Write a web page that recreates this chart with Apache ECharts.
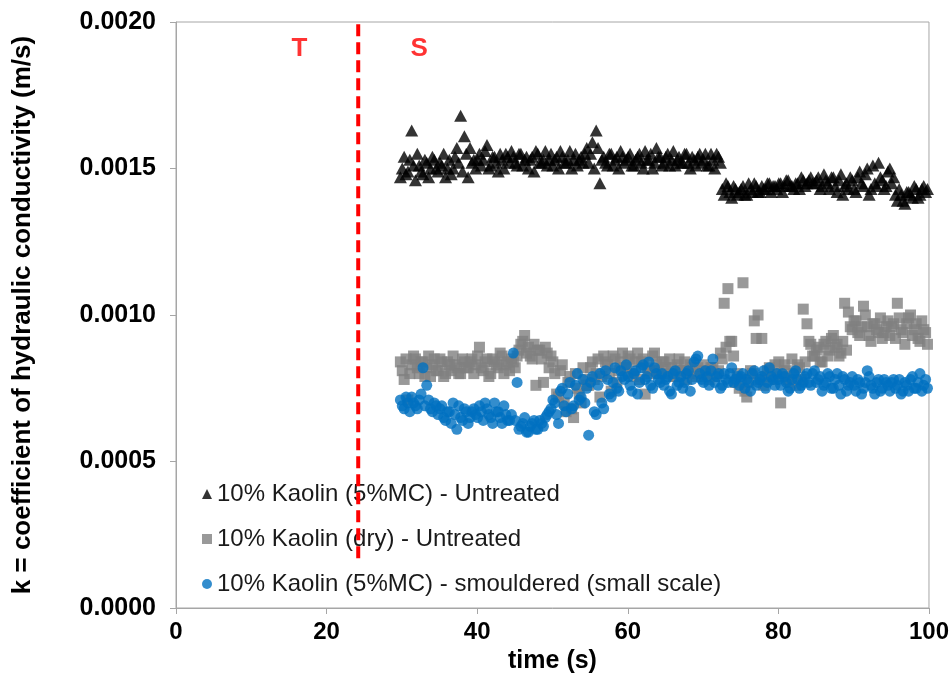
<!DOCTYPE html>
<html><head><meta charset="utf-8">
<script src="https://cdn.jsdelivr.net/npm/echarts@6/dist/echarts.min.js"></script>
<style>html,body{margin:0;padding:0;background:#fff}#c{width:952px;height:682px}</style>
</head><body><div id="c"></div>
<script>
const seriesNames = [
  '10% Kaolin (5%MC) - Untreated',
  '10% Kaolin (dry) - Untreated',
  '10% Kaolin (5%MC) - smouldered (small scale)'
];
const yTickLabels = ['0.0000', '0.0005', '0.0010', '0.0015', '0.0020'];
const xTickLabels = ['0', '20', '40', '60', '80', '100'];

// first set of sample times
const time = [
29.8,30.3,30.8,31.3,31.8,32.3,32.8,33.3,33.8,34.3,
34.8,35.3,35.8,36.3,36.8,37.3,37.8,38.3,38.8,39.3,
39.8,40.3,40.8,41.3,41.8,42.3,42.8,43.3,43.8,44.3,
44.8,45.3,45.8,46.3,46.8,47.3,47.8,48.3,48.8,49.3,
49.8,50.3,50.8,51.3,51.8,52.3,52.8,53.3,53.8,54.3,
54.8,55.3,55.8,56.3,56.8,57.3,57.8,58.3,58.8,59.3,
59.8,60.3,60.8,61.3,61.8,62.3,62.8,63.3,63.8,64.3,
64.8,65.3,65.8,66.3,66.8,67.3,67.8,68.3,68.8,69.3,
69.8,70.3,70.8,71.3,71.8,72.3,72.8,73.3,73.8,74.3,
74.8,75.3,75.8,76.3,76.8,77.3,77.8,78.3,78.8,79.3,
79.8,80.3,80.8,81.3,81.8,82.3,82.8,83.3,83.8,84.3,
84.8,85.3,85.8,86.3,86.8,87.3,87.8,88.3,88.8,89.3,
89.8,90.3,90.8,91.3,91.8,92.3,92.8,93.3,93.8,94.3,
94.8,95.3,95.8,96.3,96.8,97.3,97.8,98.3,98.8,99.3,
99.8];

// second set of sample times (in between)
const time2 = [
30.05,30.55,31.05,31.55,32.05,32.55,33.05,33.55,34.05,34.55,
35.05,35.55,36.05,36.55,37.05,37.55,38.05,38.55,39.05,39.55,
40.05,40.55,41.05,41.55,42.05,42.55,43.05,43.55,44.05,44.55,
45.05,45.55,46.05,46.55,47.05,47.55,48.05,48.55,49.05,49.55,
50.05,50.55,51.05,51.55,52.05,52.55,53.05,53.55,54.05,54.55,
55.05,55.55,56.05,56.55,57.05,57.55,58.05,58.55,59.05,59.55,
60.05,60.55,61.05,61.55,62.05,62.55,63.05,63.55,64.05,64.55,
65.05,65.55,66.05,66.55,67.05,67.55,68.05,68.55,69.05,69.55,
70.05,70.55,71.05,71.55,72.05,72.55,73.05,73.55,74.05,74.55,
75.05,75.55,76.05,76.55,77.05,77.55,78.05,78.55,79.05,79.55,
80.05,80.55,81.05,81.55,82.05,82.55,83.05,83.55,84.05,84.55,
85.05,85.55,86.05,86.55,87.05,87.55,88.05,88.55,89.05,89.55,
90.05,90.55,91.05,91.55,92.05,92.55,93.05,93.55,94.05,94.55,
95.05,95.55,96.05,96.55,97.05,97.55,98.05,98.55,99.05,99.55];

const kUntreated5MC = [
0.00147,0.00154,0.00149,0.00163,0.00146,0.00151,0.00148,0.00152,0.00150,0.00153,
0.00149,0.00151,0.00147,0.00153,0.00150,0.00157,0.00168,0.00161,0.00147,0.00152,
0.00150,0.00155,0.00153,0.00158,0.00151,0.00154,0.00149,0.00153,0.00155,0.00152,
0.00154,0.00151,0.00155,0.00153,0.00150,0.00154,0.00156,0.00152,0.00153,0.00151,
0.00155,0.00153,0.00150,0.00154,0.00152,0.00156,0.00153,0.00151,0.00154,0.00155,
0.00152,0.00159,0.00163,0.00145,0.00154,0.00151,0.00155,0.00153,0.00150,0.00154,
0.00153,0.00155,0.00151,0.00154,0.00152,0.00156,0.00153,0.00150,0.00157,0.00154,
0.00152,0.00155,0.00153,0.00151,0.00154,0.00152,0.00155,0.00150,0.00153,0.00154,
0.00152,0.00155,0.00151,0.00153,0.00155,0.00152,0.00141,0.00144,0.00140,0.00143,
0.00142,0.00144,0.00141,0.00143,0.00145,0.00142,0.00144,0.00143,0.00145,0.00144,
0.00143,0.00145,0.00144,0.00146,0.00144,0.00145,0.00143,0.00146,0.00145,0.00147,
0.00145,0.00147,0.00144,0.00146,0.00143,0.00147,0.00142,0.00148,0.00144,0.00143,
0.00146,0.00142,0.00149,0.00144,0.00150,0.00143,0.00145,0.00152,0.00146,0.00144,
0.00150,0.00147,0.00139,0.00141,0.00138,0.00142,0.00140,0.00143,0.00141,0.00144,
0.00143];
const kUntreated5MC2 = [
0.00150,0.00148,0.00153,0.00151,0.00155,0.00149,0.00153,0.00147,0.00154,0.00150,
0.00152,0.00155,0.00150,0.00148,0.00154,0.00152,0.00149,0.00155,0.00157,0.00153,
0.00153,0.00151,0.00156,0.00150,0.00154,0.00152,0.00155,0.00150,0.00154,0.00156,
0.00152,0.00155,0.00151,0.00154,0.00153,0.00149,0.00155,0.00152,0.00156,0.00153,
0.00151,0.00154,0.00156,0.00152,0.00153,0.00150,0.00155,0.00153,0.00152,0.00157,
0.00155,0.00150,0.00157,0.00153,0.00152,0.00155,0.00151,0.00154,0.00156,0.00152,
0.00154,0.00151,0.00153,0.00155,0.00150,0.00153,0.00155,0.00152,0.00154,0.00151,
0.00154,0.00151,0.00156,0.00153,0.00152,0.00155,0.00152,0.00154,0.00151,0.00155,
0.00153,0.00151,0.00155,0.00150,0.00154,0.00143,0.00145,0.00142,0.00144,0.00141,
0.00143,0.00141,0.00145,0.00142,0.00144,0.00142,0.00143,0.00145,0.00142,0.00144,
0.00145,0.00142,0.00146,0.00144,0.00143,0.00145,0.00147,0.00144,0.00146,0.00145,
0.00146,0.00143,0.00148,0.00145,0.00147,0.00144,0.00146,0.00141,0.00145,0.00147,
0.00143,0.00147,0.00145,0.00148,0.00141,0.00151,0.00144,0.00147,0.00143,0.00149,
0.00145,0.00141,0.00143,0.00139,0.00142,0.00141,0.00144,0.00140,0.00143,0.00142];

const kUntreatedDry = [
0.00084,0.00078,0.00071,0.00083,0.00085,0.00080,0.00084,0.00082,0.00079,0.00085,
0.00081,0.00084,0.00080,0.00083,0.00086,0.00082,0.00080,0.00084,0.00082,0.00085,
0.00083,0.00089,0.00081,0.00085,0.00080,0.00084,0.00082,0.00086,0.00083,0.00081,
0.00084,0.00086,0.00090,0.00093,0.00089,0.00085,0.00076,0.00088,0.00077,0.00087,
0.00086,0.00080,0.00072,0.00083,0.00067,0.00079,0.00065,0.00075,0.00070,0.00078,
0.00076,0.00084,0.00080,0.00072,0.00086,0.00083,0.00074,0.00085,0.00081,0.00087,
0.00082,0.00085,0.00079,0.00087,0.00084,0.00073,0.00081,0.00086,0.00083,0.00080,
0.00084,0.00080,0.00082,0.00079,0.00085,0.00081,0.00078,0.00083,0.00080,0.00082,
0.00079,0.00081,0.00078,0.00082,0.00080,0.00087,0.00104,0.00109,0.00091,0.00077,
0.00075,0.00111,0.00072,0.00081,0.00098,0.00100,0.00092,0.00079,0.00082,0.00078,
0.00080,0.00070,0.00083,0.00078,0.00085,0.00076,0.00082,0.00102,0.00097,0.00090,
0.00086,0.00089,0.00084,0.00091,0.00088,0.00093,0.00090,0.00087,0.00104,0.00101,
0.00095,0.00098,0.00093,0.00103,0.00096,0.00091,0.00097,0.00094,0.00092,0.00096,
0.00093,0.00097,0.00104,0.00095,0.00090,0.00099,0.00093,0.00097,0.00091,0.00095,
0.00090];
const kUntreatedDry2 = [
0.00081,0.00085,0.00080,0.00086,0.00082,0.00084,0.00079,0.00086,0.00083,0.00081,
0.00085,0.00079,0.00084,0.00081,0.00083,0.00080,0.00085,0.00082,0.00084,0.00080,
0.00086,0.00082,0.00084,0.00079,0.00085,0.00083,0.00087,0.00080,0.00084,0.00085,
0.00082,0.00088,0.00091,0.00087,0.00086,0.00090,0.00088,0.00085,0.00089,0.00082,
0.00084,0.00073,0.00081,0.00070,0.00077,0.00068,0.00080,0.00073,0.00082,0.00076,
0.00082,0.00078,0.00085,0.00079,0.00084,0.00080,0.00086,0.00077,0.00084,0.00082,
0.00086,0.00080,0.00084,0.00078,0.00085,0.00082,0.00080,0.00087,0.00081,0.00084,
0.00082,0.00085,0.00079,0.00083,0.00081,0.00084,0.00080,0.00082,0.00079,0.00081,
0.00083,0.00080,0.00082,0.00079,0.00081,0.00085,0.00089,0.00091,0.00086,0.00080,
0.00078,0.00074,0.00077,0.00080,0.00092,0.00078,0.00076,0.00081,0.00079,0.00083,
0.00084,0.00079,0.00081,0.00077,0.00080,0.00083,0.00078,0.00084,0.00091,0.00086,
0.00088,0.00084,0.00090,0.00086,0.00092,0.00089,0.00086,0.00091,0.00088,0.00096,
0.00098,0.00094,0.00096,0.00100,0.00093,0.00097,0.00095,0.00099,0.00094,0.00098,
0.00096,0.00092,0.00099,0.00094,0.00097,0.00100,0.00095,0.00092,0.00098,0.00094];

const kSmouldered = [
0.00071,0.00068,0.00070,0.00072,0.00069,0.00071,0.00082,0.00076,0.00068,0.00070,
0.00066,0.00069,0.00064,0.00067,0.00070,0.00061,0.00065,0.00068,0.00063,0.00067,
0.00066,0.00069,0.00064,0.00068,0.00065,0.00070,0.00067,0.00063,0.00066,0.00064,
0.00087,0.00077,0.00062,0.00065,0.00060,0.00063,0.00061,0.00064,0.00062,0.00066,
0.00068,0.00070,0.00063,0.00075,0.00067,0.00077,0.00069,0.00080,0.00072,0.00070,
0.00059,0.00079,0.00066,0.00080,0.00068,0.00078,0.00072,0.00082,0.00074,0.00079,
0.00083,0.00076,0.00080,0.00073,0.00082,0.00078,0.00084,0.00075,0.00080,0.00077,
0.00076,0.00079,0.00073,0.00081,0.00077,0.00075,0.00080,0.00074,0.00084,0.00086,
0.00078,0.00081,0.00076,0.00085,0.00079,0.00075,0.00080,0.00077,0.00082,0.00078,
0.00076,0.00080,0.00078,0.00074,0.00081,0.00077,0.00079,0.00075,0.00082,0.00078,
0.00080,0.00076,0.00079,0.00074,0.00078,0.00081,0.00075,0.00077,0.00080,0.00076,
0.00081,0.00078,0.00074,0.00077,0.00079,0.00075,0.00080,0.00073,0.00078,0.00076,
0.00079,0.00074,0.00077,0.00075,0.00081,0.00076,0.00073,0.00078,0.00075,0.00077,
0.00074,0.00078,0.00076,0.00073,0.00077,0.00074,0.00079,0.00075,0.00080,0.00076,
0.00075];
const kSmouldered2 = [
0.00069,0.00072,0.00067,0.00070,0.00068,0.00073,0.00069,0.00071,0.00067,0.00069,
0.00068,0.00065,0.00067,0.00063,0.00066,0.00069,0.00064,0.00067,0.00065,0.00068,
0.00065,0.00067,0.00070,0.00066,0.00063,0.00067,0.00065,0.00069,0.00064,0.00066,
0.00064,0.00061,0.00063,0.00060,0.00062,0.00064,0.00061,0.00063,0.00065,0.00067,
0.00071,0.00066,0.00074,0.00069,0.00073,0.00068,0.00076,0.00071,0.00078,0.00075,
0.00077,0.00067,0.00076,0.00070,0.00081,0.00073,0.00077,0.00075,0.00081,0.00078,
0.00079,0.00074,0.00081,0.00077,0.00083,0.00079,0.00076,0.00082,0.00078,0.00080,
0.00078,0.00074,0.00080,0.00076,0.00079,0.00077,0.00081,0.00078,0.00085,0.00080,
0.00077,0.00079,0.00081,0.00077,0.00080,0.00076,0.00078,0.00080,0.00077,0.00079,
0.00079,0.00075,0.00077,0.00080,0.00076,0.00078,0.00081,0.00077,0.00079,0.00076,
0.00078,0.00080,0.00077,0.00075,0.00080,0.00078,0.00076,0.00079,0.00077,0.00080,
0.00077,0.00079,0.00076,0.00080,0.00075,0.00078,0.00076,0.00079,0.00074,0.00077,
0.00076,0.00078,0.00073,0.00077,0.00079,0.00075,0.00077,0.00074,0.00078,0.00076,
0.00077,0.00075,0.00078,0.00074,0.00076,0.00078,0.00075,0.00077,0.00074,0.00078];

const transitionTime = [24.2, 24.2];
const transitionK = [0.00017, 0.0020];
const annotationText = ['T', 'S'];
const annotationTime = [16.4, 32.3];
const annotationK = [0.00191, 0.00191];

const pairs = (xs, ys) => xs.map((x, i) => [x, ys[i]]);
const FONT = '"Liberation Sans", Arial, sans-serif';

const chart = echarts.init(document.getElementById('c'), null, {renderer: 'canvas'});
chart.setOption({
  animation: false,
  backgroundColor: '#ffffff',
  grid: {left: 176, right: 20, top: 22, bottom: 74, show: true, borderColor: '#a6a6a6', borderWidth: 1},
  xAxis: {
    type: 'value', min: 0, max: 100, interval: 20,
    name: 'time (s)', nameLocation: 'middle', nameGap: 38,
    nameTextStyle: {fontFamily: FONT, fontWeight: 'bold', fontSize: 25, color: '#000'},
    axisLine: {show: true, lineStyle: {color: '#a6a6a6', width: 1}},
    axisTick: {show: true, inside: false, length: 6, lineStyle: {color: '#a6a6a6'}},
    axisLabel: {fontFamily: FONT, fontWeight: 'bold', fontSize: 24, color: '#000', margin: 12,
      formatter: (v) => xTickLabels[Math.round(v / 20)]},
    splitLine: {show: false}
  },
  yAxis: {
    type: 'value', min: 0, max: 0.002, interval: 0.0005,
    name: 'k = coefficient of hydraulic conductivity (m/s)', nameLocation: 'middle', nameGap: 140,
    nameRotate: 90,
    nameTextStyle: {fontFamily: FONT, fontWeight: 'bold', fontSize: 26, color: '#000'},
    axisLine: {show: true, lineStyle: {color: '#a6a6a6', width: 1}},
    axisTick: {show: true, inside: false, length: 6, lineStyle: {color: '#a6a6a6'}},
    axisLabel: {fontFamily: FONT, fontWeight: 'bold', fontSize: 25, color: '#000', margin: 20,
      formatter: (v) => yTickLabels[Math.round(v / 0.0005)]},
    splitLine: {show: false}
  },
  legend: {
    orient: 'vertical', left: 197, top: 477, itemWidth: 10, itemHeight: 10, itemGap: 21,
    textStyle: {fontFamily: FONT, fontSize: 24, color: '#1a1a1a', lineHeight: 24},
    data: [
      {name: seriesNames[0], icon: 'triangle'},
      {name: seriesNames[1], icon: 'rect'},
      {name: seriesNames[2], icon: 'circle'}
    ]
  },
  series: [
    {name: seriesNames[0], type: 'scatter', symbol: 'triangle', symbolSize: [13, 12],
      itemStyle: {color: '#000000'}, data: pairs(time, kUntreated5MC).concat(pairs(time2, kUntreated5MC2)), z: 3},
    {name: seriesNames[1], type: 'scatter', symbol: 'rect', symbolSize: 11,
      itemStyle: {color: '#808080'}, data: pairs(time, kUntreatedDry).concat(pairs(time2, kUntreatedDry2)), z: 3},
    {name: seriesNames[2], type: 'scatter', symbol: 'circle', symbolSize: 11,
      itemStyle: {color: '#0070C0'}, data: pairs(time, kSmouldered).concat(pairs(time2, kSmouldered2)), z: 4},
    {name: 'transition', type: 'line', data: pairs(transitionTime, transitionK), symbol: 'none',
      lineStyle: {color: '#ff0000', width: 4, type: [12, 6]}, z: 5, silent: true},
    {name: 'labels', type: 'scatter', symbolSize: 0, silent: true,
      data: annotationTime.map((x, i) => ({value: [x, annotationK[i]], name: annotationText[i]})),
      label: {show: true, position: 'inside', formatter: (p) => p.name,
        fontFamily: FONT, fontWeight: 'bold', fontSize: 26, color: '#ff0000'}}
  ]
});
</script></body></html>
